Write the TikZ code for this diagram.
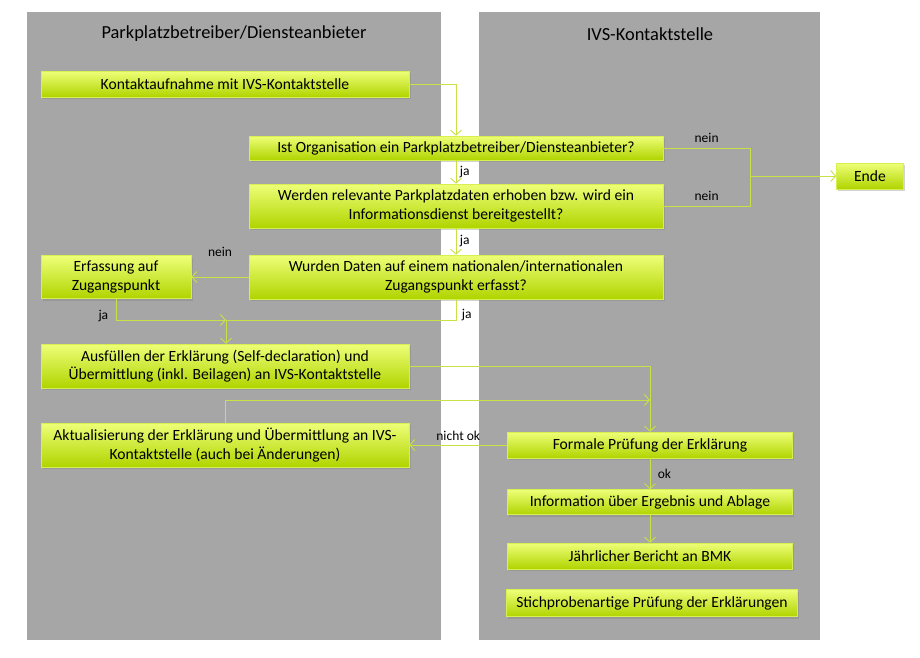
\documentclass[tikz,border=0pt]{standalone}
\usepackage{fontspec}
\setmainfont{Carlito}
\usepackage{tikz}
\usetikzlibrary{arrows.meta}
\usetikzlibrary{shadows}

\definecolor{bahn}{RGB}{166,166,166}
\definecolor{boxoben}{RGB}{238,255,120}
\definecolor{boxunten}{RGB}{176,212,0}
\definecolor{boxrand}{RGB}{214,240,80}
\definecolor{gruenlinie}{RGB}{200,226,70}

\begin{document}
\begin{tikzpicture}[x=1pt,y=-1pt,
  kasten/.style={draw=boxrand, line width=0.6pt, top color=boxoben, bottom color=boxunten,
    drop shadow={shadow xshift=1.5pt, shadow yshift=-2pt, opacity=0.35},
    font=\fontsize{15.6}{18.5}\selectfont, align=center, inner sep=0pt, minimum height=26pt},
  linie/.style={draw=gruenlinie, line width=0.9pt},
  pfeil/.style={linie, -{Straight Barb[length=5pt,width=11pt]}},
  marke/.style={font=\fontsize{13.5}{16}\selectfont}]
\useasboundingbox (0,0) rectangle (920,657);
\fill[bahn] (27,12) rectangle (441,640);
\fill[bahn] (479,12) rectangle (820,640);
\node[font=\fontsize{18.4}{22}\selectfont] (titel1) at (234,34) {Parkplatzbetreiber/Diensteanbieter};
\node[font=\fontsize{18.4}{22}\selectfont] (titel2) at (650,34) {IVS-Kontaktstelle};

\node[kasten, minimum width=368pt] (kontakt) at (225,84) {Kontaktaufnahme mit IVS-Kontaktstelle};
\node[kasten, minimum width=414pt, minimum height=24pt] (frage1) at (456,148) {Ist Organisation ein Parkplatzbetreiber/Diensteanbieter?};
\node[kasten, minimum width=414pt, minimum height=44pt] (frage2) at (456,206) {Werden relevante Parkplatzdaten erhoben bzw. wird ein\\Informationsdienst bereitgestellt?};
\node[kasten, minimum width=414pt, minimum height=44pt] (frage3) at (456,277) {Wurden Daten auf einem nationalen/internationalen\\Zugangspunkt erfasst?};
\node[kasten, minimum width=150pt, minimum height=43pt] (erfassung) at (116,277) {Erfassung auf\\Zugangspunkt};
\node[kasten, minimum width=368pt, minimum height=44pt] (ausfuellen) at (225,366) {Ausfüllen der Erklärung (Self-declaration) und\\Übermittlung (inkl. Beilagen) an IVS-Kontaktstelle};
\node[kasten, minimum width=368pt, minimum height=44pt] (aktual) at (225,445) {Aktualisierung der Erklärung und Übermittlung an IVS-\\Kontaktstelle (auch bei Änderungen)};
\node[kasten, minimum width=285pt] (pruefung) at (650,445) {Formale Prüfung der Erklärung};
\node[kasten, minimum width=285pt, minimum height=25pt] (info) at (650,502) {Information über Ergebnis und Ablage};
\node[kasten, minimum width=285pt] (bericht) at (650,556) {Jährlicher Bericht an BMK};
\node[kasten, minimum width=291pt, minimum height=27pt] (stich) at (652,603) {Stichprobenartige Prüfung der Erklärungen};
\node[kasten, minimum width=67pt] (ende) at (870,176) {Ende};

\coordinate (knoten) at (750,176);
\coordinate (sammel) at (226,320);
\coordinate (rueck) at (650,400);

\draw[pfeil] (kontakt.east) -| (frage1.north);
\draw[pfeil] (frage1.south) -- node[marke, right] {ja} (frage2.north);
\draw[pfeil] (frage2.south) -- node[marke, right] {ja} (frage3.north);
\draw[linie] (frage1.east) -- node[marke, above=2pt] {nein} (frage1.east -| knoten) -- (knoten);
\draw[linie] (frage2.east) -- node[marke, above=2pt] {nein} (frage2.east -| knoten) -- (knoten);
\draw[pfeil] (knoten) -- (ende.west);
\draw[pfeil] (frage3.west) -- node[marke, above=17pt] {nein} (erfassung.east);
\draw[pfeil] (erfassung.south) -- node[marke, left=4pt, pos=0.8] {ja} (erfassung.south |- sammel) -- (sammel);
\draw[linie] (frage3.south) -- node[marke, right=2pt, pos=0.75] {ja} (frage3.south |- sammel) -- (sammel);
\draw[pfeil] (sammel) -- (sammel |- ausfuellen.north);
\draw[pfeil] (ausfuellen.east) -| (pruefung.north);
\draw[pfeil] (aktual.north) |- (rueck);
\draw[pfeil] (pruefung.west) -- node[marke, above=1pt] {nicht ok} (aktual.east);
\draw[pfeil] (pruefung.south) -- node[marke, right=4pt] {ok} (info.north);
\draw[pfeil] (info.south) -- (bericht.north);
\end{tikzpicture}
\end{document}
